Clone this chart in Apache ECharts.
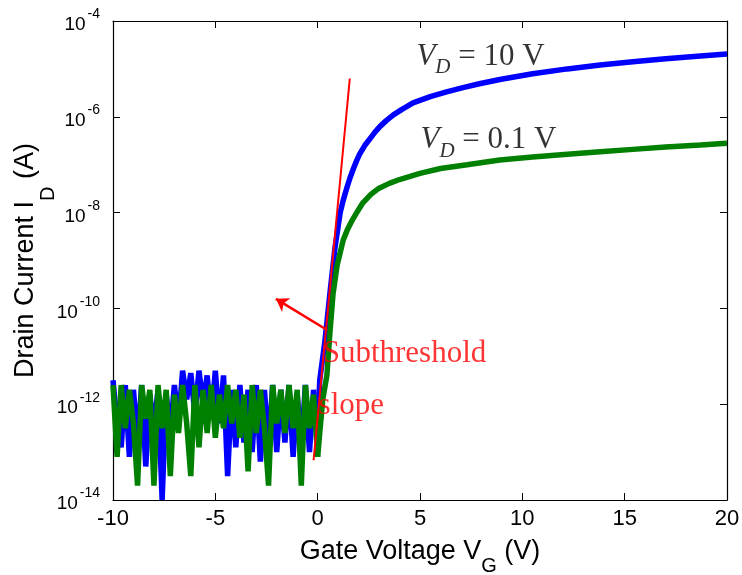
<!DOCTYPE html>
<html>
<head>
<meta charset="utf-8">
<script src="https://cdn.jsdelivr.net/npm/echarts@6/dist/echarts.min.js"></script>
<style>html,body{margin:0;padding:0;background:#fff}#c{width:742px;height:575px}</style>
</head>
<body>
<div id="c"></div>
<script>
// Gate voltage sweep (V) for the off-state noise region
const vgNoise = [-10.0,-9.8,-9.6,-9.4,-9.2,-9.0,-8.8,-8.6,-8.4,-8.2,-8.0,-7.8,-7.6,-7.4,-7.2,-7.0,-6.8,-6.6,-6.4,-6.2,-6.0,-5.8,-5.6,-5.4,-5.2,-5.0,-4.8,-4.6,-4.4,-4.2,-4.0,-3.8,-3.6,-3.4,-3.2,-3.0,-2.8,-2.6,-2.4,-2.2,-2.0,-1.8,-1.6,-1.4,-1.2,-1.0,-0.8,-0.6,-0.4,-0.2,0.0];
// log10(I_D) for VD = 10 V, noise region
const blueNoise = [-11.5,-12.4,-12.9,-11.6,-13.1,-11.7,-12.8,-11.6,-13.3,-11.8,-12.5,-11.7,-14.0,-11.8,-12.6,-11.6,-12.4,-11.3,-11.9,-11.35,-12.2,-11.3,-12.0,-11.4,-12.3,-11.3,-12.4,-11.4,-13.5,-11.7,-12.9,-11.6,-12.8,-11.7,-13.0,-11.6,-13.2,-11.7,-12.9,-11.6,-13.0,-11.7,-12.8,-11.6,-13.1,-11.8,-12.9,-11.6,-13.0,-11.7,-12.6];
// log10(I_D) for VD = 0.1 V, noise region
const greenNoise = [-11.6,-13.1,-11.6,-12.5,-11.7,-12.4,-13.7,-11.6,-12.3,-11.7,-13.7,-11.6,-12.5,-11.7,-13.5,-11.8,-12.6,-11.6,-12.4,-13.5,-11.6,-12.9,-11.7,-12.6,-11.6,-12.7,-11.8,-12.5,-11.6,-12.4,-11.7,-12.7,-11.8,-13.4,-11.6,-12.6,-11.7,-12.5,-13.7,-11.6,-12.4,-11.7,-12.6,-11.6,-12.5,-11.7,-13.7,-11.6,-12.5,-11.8,-13.1];
// turn-on / on-state region
const vgBlueOn = [0.0,0.1,0.35,0.6,0.85,1.1,1.25,1.45,1.6,1.75,1.9,2.05,2.3,2.55,2.8,3.05,3.35,3.7,4.1,4.66,5.5,6.3,7.1,7.9,8.9,10.5,12.2,13.8,15.4,17.0,18.7,20.0];
const blueOn   = [-12.6,-11.5,-10.7,-9.68,-8.72,-8.0,-7.74,-7.45,-7.25,-7.08,-6.92,-6.78,-6.6,-6.46,-6.32,-6.2,-6.08,-5.96,-5.85,-5.71,-5.58,-5.48,-5.39,-5.31,-5.22,-5.1,-5.0,-4.92,-4.85,-4.79,-4.73,-4.69];
const vgGreenOn = [0.0,0.1,0.25,0.45,0.6,0.75,0.95,1.25,1.45,1.7,1.95,2.2,2.6,3.0,3.5,4.0,5.0,6.0,7.3,8.9,10.5,12.2,13.8,15.4,17.0,18.7,20.0];
const greenOn   = [-13.1,-12.6,-11.9,-11.4,-10.5,-9.7,-9.1,-8.57,-8.36,-8.15,-7.97,-7.8,-7.62,-7.49,-7.39,-7.31,-7.18,-7.08,-7.0,-6.9,-6.84,-6.78,-6.73,-6.68,-6.63,-6.59,-6.55];
// subthreshold slope fit line and arrow (VG, log10 I_D)
const slopeLine = [[-0.2,-13.17],[1.57,-5.2]];
const arrowLine = [[0.46,-10.45],[-2.04,-9.8]];
// axis ticks
const xTicks = {min:-10, max:20, interval:5};
const yTicks = {min:-14, max:-4, interval:2};

const pair = (xs, ys) => xs.map((x,i)=>[x, ys[i]]);

const sans = 'Liberation Sans, Arial, Helvetica, sans-serif';
const serif = 'Liberation Serif, Times New Roman, serif';

const xNameRich = {
  a:{fontFamily:sans, fontSize:27, lineHeight:30, color:'#000', verticalAlign:'top'},
  s:{fontFamily:sans, fontSize:20, lineHeight:20, color:'#000', verticalAlign:'top', padding:[18,0,0,0]}
};
const yNameRich = {
  a:{fontFamily:sans, fontSize:27, lineHeight:30, color:'#000', verticalAlign:'top'},
  s:{fontFamily:sans, fontSize:20, lineHeight:20, color:'#000', verticalAlign:'top', padding:[26,0,0,0]}
};
const vdRich = {
  v:{fontFamily:serif, fontStyle:'italic', fontSize:31, lineHeight:32, color:'#000', verticalAlign:'top'},
  d:{fontFamily:serif, fontStyle:'italic', fontSize:21, lineHeight:21, color:'#000', verticalAlign:'top', padding:[16,0,0,0]},
  r:{fontFamily:serif, fontSize:31, lineHeight:32, color:'#000', verticalAlign:'top'}
};

function boxAxis(extra){
  return Object.assign({
    type:'value',
    axisLine:{show:true, onZero:false, lineStyle:{color:'#000', width:1.2}},
    axisTick:{show:true, inside:true, length:7, lineStyle:{color:'#000'}},
    splitLine:{show:false}
  }, extra);
}

const chart = echarts.init(document.getElementById('c'), null, {renderer:'canvas'});
chart.setOption({
  animation:false,
  backgroundColor:'#fff',
  grid:{left:113, right:15, top:21, bottom:75, containLabel:false, outerBoundsMode:'none'},
  xAxis:[
    boxAxis({min:xTicks.min, max:xTicks.max, interval:xTicks.interval, position:'bottom',
      axisLabel:{fontFamily:sans, fontSize:22, color:'#000', margin:8},
      name:'{a|Gate Voltage V}{s|G}{a| (V)}', nameLocation:'middle', nameGap:38, nameMoveOverlap:false,
      nameTextStyle:{rich:xNameRich}}),
    boxAxis({min:xTicks.min, max:xTicks.max, interval:xTicks.interval, position:'top', axisLabel:{show:false}})
  ],
  yAxis:[
    boxAxis({min:yTicks.min, max:yTicks.max, interval:yTicks.interval, position:'left',
      axisLabel:{margin:13, padding:[0,0,8,0], formatter:v=>'{b|10}{s|'+v+'}',
        rich:{
          b:{fontFamily:sans, fontSize:19, lineHeight:19, color:'#000', verticalAlign:'top', padding:[8,0,8,0]},
          s:{fontFamily:sans, fontSize:14, lineHeight:14, color:'#000', verticalAlign:'top', padding:[0,0,0,2]}
        }},
      name:'{a|Drain Current I}{s|D}{a| (A)}', nameLocation:'middle', nameGap:71, nameMoveOverlap:false,
      nameTextStyle:{rich:yNameRich}}),
    boxAxis({min:yTicks.min, max:yTicks.max, interval:yTicks.interval, position:'right', axisLabel:{show:false}})
  ],
  series:[
    {type:'line', data:pair(vgNoise, blueNoise), symbol:'none', lineStyle:{color:'#0000ff', width:5.5}, z:2},
    {type:'line', data:pair(vgBlueOn, blueOn), symbol:'none', lineStyle:{color:'#0000ff', width:5.5}, z:2},
    {type:'line', data:pair(vgNoise, greenNoise), symbol:'none', lineStyle:{color:'#008000', width:5.5}, z:3},
    {type:'line', data:pair(vgGreenOn, greenOn), symbol:'none', lineStyle:{color:'#008000', width:5.5}, z:3},
    {type:'line', data:slopeLine, symbol:'none', lineStyle:{color:'#ff0000', width:2}, z:4},
    {type:'lines', coordinateSystem:'cartesian2d', z:5,
      symbol:['none','arrow'], symbolSize:12,
      lineStyle:{color:'#ff0000', width:2.5, opacity:1},
      data:[{coords:arrowLine}]},
    {type:'scatter', symbol:'circle', symbolSize:1, itemStyle:{color:'rgba(0,0,0,0)'}, z:6, silent:true,
      label:{show:true, position:'right', distance:0, color:'#000'},
      data:[
        {value:[4.8,-4.76], label:{formatter:'{v|V}{d|D}{r| = 10 V}', rich:vdRich}},
        {value:[5.0,-6.5], label:{formatter:'{v|V}{d|D}{r| = 0.1 V}', rich:vdRich}},
        {value:[0.22,-10.95], label:{formatter:'Subthreshold', fontFamily:serif, fontSize:31, color:'#ff0000'}},
        {value:[0.02,-12.04], label:{formatter:'slope', fontFamily:serif, fontSize:31, color:'#ff0000'}}
      ]}
  ]
});
</script>
</body>
</html>
